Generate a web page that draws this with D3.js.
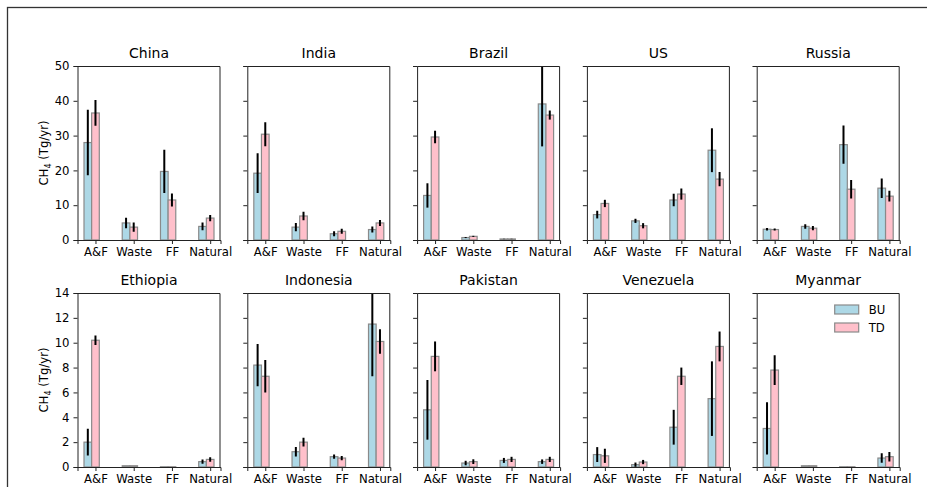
<!DOCTYPE html>
<html>
<head>
<meta charset="utf-8">
<script src="https://cdn.jsdelivr.net/npm/d3@7"></script>
<style>
  body { margin: 0; background: #fff; }
  svg { display: block; }
  svg text { font-family: "DejaVu Sans", sans-serif; }
  .tick text { font-size: 11.7px; fill: #000; }
  .domain, .tick line { stroke: #222; }
</style>
</head>
<body>
<div id="chart"></div>
<script>
// Countries and emission sectors
const countries = ["China", "India", "Brazil", "US", "Russia",
                   "Ethiopia", "Indonesia", "Pakistan", "Venezuela", "Myanmar"];
const sectors = ["A&F", "Waste", "FF", "Natural"];

// Bottom-up (BU) estimates and error half-widths, Tg/yr
const buValues = [
    [28.0, 4.9, 19.7, 3.9],
    [19.2, 3.7, 1.8, 3.0],
    [12.8, 0.7, 0.3, 39.1],
    [7.3, 5.5, 11.5, 25.8],
    [3.1, 3.9, 27.4, 14.9],
    [2.0, 0.1, 0.02, 0.43],
    [8.2, 1.23, 0.83, 11.5],
    [4.6, 0.32, 0.53, 0.43],
    [1.0, 0.19, 3.2, 5.5],
    [3.1, 0.1, 0.02, 0.72]
];
const buErrors = [
    [9.4, 1.5, 6.2, 1.1],
    [5.7, 1.2, 0.7, 0.85],
    [3.5, 0.15, 0.05, 12.2],
    [1.1, 0.6, 1.8, 6.3],
    [0.35, 0.65, 5.5, 2.8],
    [1.08, 0, 0, 0.17],
    [1.7, 0.38, 0.17, 4.2],
    [2.4, 0.18, 0.2, 0.18],
    [0.6, 0.17, 1.4, 3.0],
    [2.1, 0, 0, 0.38]
];

// Top-down (TD) estimates and error half-widths, Tg/yr
const tdValues = [
    [36.5, 3.7, 11.5, 6.3],
    [30.4, 6.9, 2.5, 4.9],
    [29.6, 1.05, 0.3, 35.9],
    [10.5, 4.1, 13.2, 17.5],
    [3.0, 3.4, 14.6, 12.6],
    [10.2, 0.1, 0.02, 0.61],
    [7.3, 2.0, 0.72, 10.1],
    [8.9, 0.43, 0.61, 0.61],
    [0.9, 0.4, 7.3, 9.7],
    [7.8, 0.1, 0.02, 0.83]
];
const tdErrors = [
    [3.7, 1.3, 1.85, 0.9],
    [3.45, 1.2, 0.7, 0.85],
    [1.8, 0.15, 0.05, 1.3],
    [1.05, 0.75, 1.6, 2.05],
    [0.3, 0.6, 2.65, 1.55],
    [0.38, 0, 0, 0.18],
    [1.3, 0.36, 0.17, 0.98],
    [1.2, 0.19, 0.21, 0.21],
    [0.57, 0.17, 0.7, 1.2],
    [1.2, 0, 0, 0.38]
];

// Y ticks per row
const rowTicks = [
    [0, 10, 20, 30, 40, 50],
    [0, 2, 4, 6, 8, 10, 12, 14]
];

const seriesNames = ["BU", "TD"];
const seriesColors = ["#add8e6", "#ffc0cb"];

const W = 927, H = 487;
const panelW = 143, panelH = 174;
const left0 = 77.5, stepX = 169.8;
const rowTop = [66, 293];
const font = "DejaVu Sans, sans-serif";

const svg = d3.select("#chart").append("svg")
    .attr("width", W)
    .attr("height", H);

// outer frame (cut off at right and bottom)
svg.append("rect")
    .attr("x", 7.5).attr("y", 7.5)
    .attr("width", 960).attr("height", 520)
    .attr("fill", "none")
    .attr("stroke", "#333")
    .attr("stroke-width", 1.3);

const x = d3.scaleLinear().domain([-0.47, 3.27]).range([0, panelW]);
const barW = x(0.2) - x(0);

countries.forEach((country, k) => {
    const row = Math.floor(k / 5), col = k % 5;
    const ticks = rowTicks[row];
    const y = d3.scaleLinear()
        .domain([0, d3.max(ticks)])
        .range([panelH, 0]);

    const g = svg.append("g")
        .attr("transform", `translate(${left0 + col * stepX},${rowTop[row]})`);

    const clipId = "clip" + k;
    g.append("clipPath").attr("id", clipId)
        .append("rect").attr("width", panelW).attr("height", panelH);

    const plot = g.append("g").attr("clip-path", `url(#${clipId})`);

    // BU bars sit left of the tick, TD bars centred on it
    const series = [
        { vals: buValues[k], errs: buErrors[k], off: -0.2, color: seriesColors[0] },
        { vals: tdValues[k], errs: tdErrors[k], off: 0, color: seriesColors[1] }
    ];

    series.forEach(s => {
        plot.selectAll(null)
            .data(s.vals)
            .enter()
            .append("rect")
            .attr("x", (d, i) => x(i + s.off) - barW / 2)
            .attr("y", d => y(d))
            .attr("width", barW)
            .attr("height", d => panelH - y(d))
            .attr("fill", s.color)
            .attr("stroke", "#8a8a8a")
            .attr("stroke-width", 1.2);
    });

    series.forEach(s => {
        plot.selectAll(null)
            .data(s.vals.map((v, i) => ({ v, e: s.errs[i], i })).filter(d => d.e > 0))
            .enter()
            .append("line")
            .attr("x1", d => x(d.i + s.off))
            .attr("x2", d => x(d.i + s.off))
            .attr("y1", d => y(d.v - d.e))
            .attr("y2", d => y(d.v + d.e))
            .attr("stroke", "#000")
            .attr("stroke-width", 2);
    });

    // axes
    const yAxis = d3.axisLeft(y).tickValues(ticks).tickSize(4).tickPadding(4);
    if (col > 0) yAxis.tickFormat("");
    g.append("g").call(yAxis)
        .attr("font-family", font).attr("font-size", 11.7);

    g.append("g")
        .attr("transform", `translate(0,${panelH})`)
        .call(d3.axisBottom(x).tickValues([0, 1, 2, 3])
            .tickFormat(i => sectors[i]).tickSize(4).tickPadding(4))
        .attr("font-family", font).attr("font-size", 11.7);

    g.selectAll(".domain").attr("stroke-width", 1);

    // top/right spines
    g.append("path")
        .attr("d", `M0.5,0.5H${panelW - 0.5}V${panelH}`)
        .attr("fill", "none")
        .attr("stroke", "#222");

    // panel title
    g.append("text")
        .attr("x", panelW / 2)
        .attr("y", -8)
        .attr("text-anchor", "middle")
        .style("font-size", "14px")
        .text(country);

    // y label on first column
    if (col === 0) {
        const lbl = g.append("text")
            .attr("transform", `translate(-30,${panelH / 2}) rotate(-90)`)
            .attr("text-anchor", "middle")
            .style("font-size", "11.7px");
        lbl.append("tspan").text("CH");
        lbl.append("tspan").attr("dy", 3).style("font-size", "8px").text("4");
        lbl.append("tspan").attr("dy", -3).text(" (Tg/yr)");
    }

    // legend in the last panel
    if (k === countries.length - 1) {
        const leg = g.append("g").attr("transform", `translate(${panelW - 65},12)`);
        seriesNames.forEach((name, j) => {
            const item = leg.append("g").attr("transform", `translate(0,${j * 18})`);
            item.append("rect")
                .attr("width", 24).attr("height", 9)
                .attr("fill", seriesColors[j])
                .attr("stroke", "#8a8a8a")
                .attr("stroke-width", 1.2);
            item.append("text")
                .attr("x", 34).attr("y", 8.5)
                .style("font-size", "11.7px")
                .text(name);
        });
    }
});
</script>
</body>
</html>
